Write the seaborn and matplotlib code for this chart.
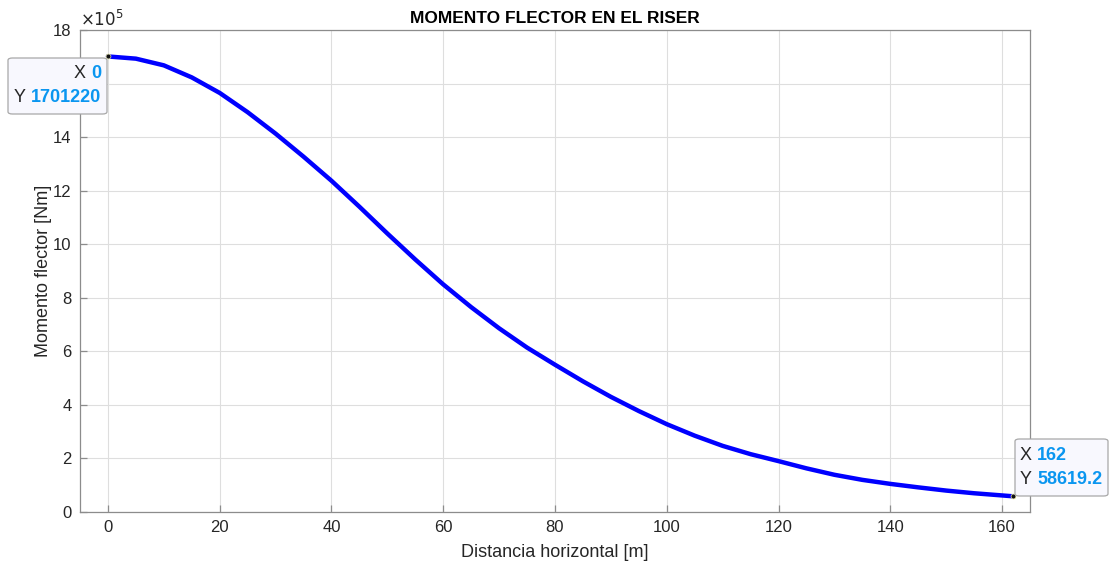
import numpy as np
import pandas as pd
import matplotlib
matplotlib.use("Agg")
import matplotlib.pyplot as plt
import seaborn as sns
from matplotlib.patches import FancyBboxPatch

# ---- data ----
distancia_m = [0, 5, 10, 15, 20, 25, 30, 35, 40, 45, 50, 55, 60, 65, 70, 75, 80,
               85, 90, 95, 100, 105, 110, 115, 120, 125, 130, 135, 140, 145, 150, 155, 162]
momento_Nm = [1701220, 1693000, 1668000, 1623000, 1565000, 1493000, 1413000, 1327000,
              1237000, 1140000, 1040000, 943000, 850000, 765000, 686000, 614000, 550000,
              488000, 430000, 377000, 328000, 285000, 247000, 216000, 190000, 163000,
              139000, 120000, 105000, 92000, 80000, 70000, 58619.2]
xticks = [0, 20, 40, 60, 80, 100, 120, 140, 160]
yticks = [0, 2, 4, 6, 8, 10, 12, 14, 16, 18]
tip_points = [(0, 1701220), (162, 58619.2)]
tip_labels = [("0", "1701220"), ("162", "58619.2")]

df = pd.DataFrame({"x": distancia_m, "y": np.array(momento_Nm) / 1e5})

sns.set_theme(style="white")
plt.rcParams["font.family"] = ["Liberation Sans", "DejaVu Sans"]

W, H = 1112, 564
fig = plt.figure(figsize=(W / 100, H / 100), dpi=100)
L, R, T, B = 80, 1030, 30, 512
ax = fig.add_axes([L / W, 1 - B / H, (R - L) / W, (B - T) / H])

sns.lineplot(data=df, x="x", y="y", ax=ax, color="#0000ff", linewidth=3.2)

ax.set_xlim(-5, 165)
ax.set_ylim(0, 18)
ax.set_xticks(xticks)
ax.set_yticks(yticks)
ax.grid(True, color="#dedede", linewidth=0.8)
for s in ax.spines.values():
    s.set_color("#8c8c8c")
    s.set_linewidth(0.9)
    s.set_visible(True)
ax.tick_params(direction="in", length=5, width=0.9, color="#8c8c8c",
               labelsize=12, labelcolor="#262626", top=False, right=False,
               bottom=True, left=True, pad=6)
ax.set_xlabel("Distancia horizontal [m]", fontsize=13, color="#262626", labelpad=6)
ax.set_ylabel("Momento flector [Nm]", fontsize=13, color="#262626", labelpad=1)
ax.set_title("MOMENTO FLECTOR EN EL RISER", fontsize=12.5, fontweight="bold",
             color="#000000", pad=5)
ax.text(0.0, 1.002, r"$\times10^{5}$", transform=ax.transAxes, fontsize=12,
        color="#262626", ha="left", va="bottom")

# the "16" label sits under the first data tip (hidden in the reference)
for lbl, v in zip(ax.get_yticklabels(), yticks):
    if v == 16:
        lbl.set_visible(False)

# data tip markers
for (px, py) in tip_points:
    ax.plot([px], [py / 1e5], marker="o", markersize=3.5, color="#111111",
            markeredgecolor="#e8e8a0", markeredgewidth=0.5, clip_on=False, zorder=5)

fig.canvas.draw()
renderer = fig.canvas.get_renderer()

def fx(p):
    return p / W

def fy(p):
    return 1 - p / H

def tip(box, align, vals):
    x0, y0, x1, y1 = box
    patch = FancyBboxPatch((fx(x0), fy(y1)), fx(x1) - fx(x0), fy(y0) - fy(y1),
                           boxstyle="round,pad=0,rounding_size=0.004",
                           transform=fig.transFigure, facecolor="#f8f8fe",
                           edgecolor="#a8a8a8", linewidth=0.9, zorder=10)
    fig.add_artist(patch)
    rows = [("X", vals[0], y0 + 16), ("Y", vals[1], y0 + 40)]
    for lab, val, yy in rows:
        if align == "right":
            t = fig.text(fx(x1 - 6), fy(yy), val, ha="right", va="center",
                         fontsize=13, fontweight="bold", color="#0a96f0", zorder=11)
            fig.canvas.draw()
            bb = t.get_window_extent(renderer)
            fig.text(bb.x0 / W - 5 / W, fy(yy), lab, ha="right", va="center",
                     fontsize=13, color="#262626", zorder=11)
        else:
            lt = fig.text(fx(x0 + 5), fy(yy), lab, ha="left", va="center",
                          fontsize=13, color="#262626", zorder=11)
            fig.canvas.draw()
            bb = lt.get_window_extent(renderer)
            fig.text(bb.x1 / W + 5 / W, fy(yy), val, ha="left", va="center",
                     fontsize=13, fontweight="bold", color="#0a96f0", zorder=11)

tip((8, 58, 107, 114), "right", tip_labels[0])
tip((1015, 439, 1108, 496), "left", tip_labels[1])

fig.savefig("out.png", dpi=100, facecolor="white")
